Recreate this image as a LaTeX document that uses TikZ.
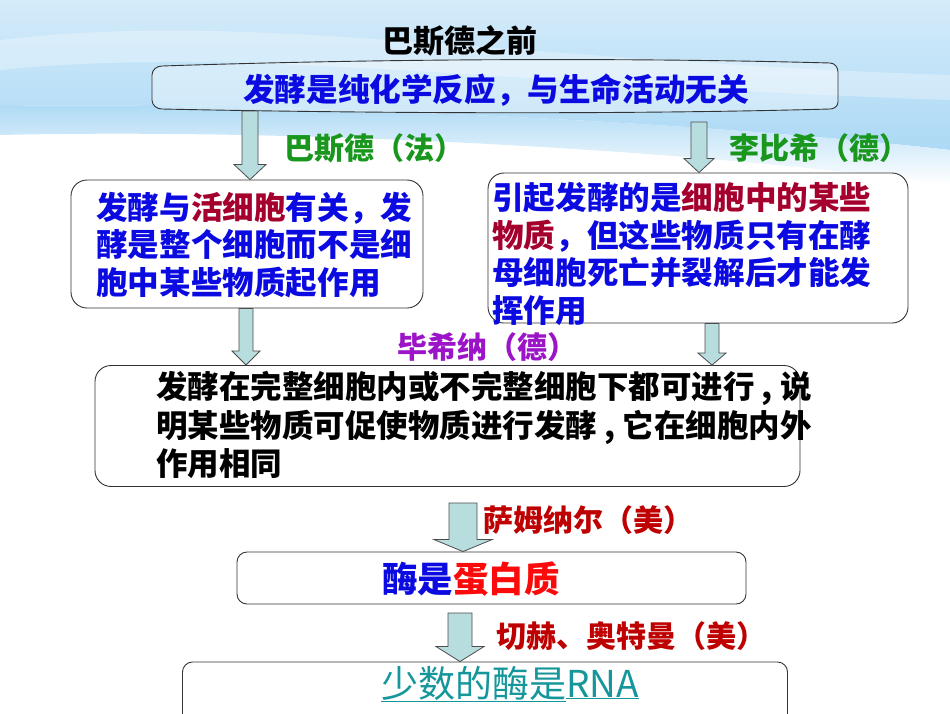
\documentclass[tikz,border=0pt]{standalone}
\usepackage{fontspec}
\newfontfamily\cjk{Noto Sans CJK SC}
\usetikzlibrary{calc}
\definecolor{bgtop}{RGB}{212,235,250}
\definecolor{bgbot}{RGB}{172,217,245}
\definecolor{arrowfill}{RGB}{184,221,223}
\definecolor{ablue}{RGB}{10,10,225}
\definecolor{amaroon}{RGB}{165,0,45}
\definecolor{agreen}{RGB}{25,150,30}
\definecolor{apurple}{RGB}{155,20,200}
\definecolor{adred}{RGB}{190,0,0}
\definecolor{ared}{RGB}{250,10,10}
\definecolor{ateal}{RGB}{20,150,155}
\newcommand\blockarrow[5]{%
  \draw[barrow] let \p1=(#1), \p2=(#2) in
    (\x1-#3pt,\y1) -- (\x1+#3pt,\y1) -- (\x1+#3pt,\y2+#5pt) -- (\x1+#4pt,\y2+#5pt)
    -- (\x1,\y2) -- (\x1-#4pt,\y2+#5pt) -- (\x1-#3pt,\y2+#5pt) -- cycle;}
\begin{document}
\begin{tikzpicture}[x=1pt,y=-1pt,
  barrow/.style={draw=black!70, line width=0.8pt, fill=arrowfill, line join=miter},
  box/.style={draw=black!80, line width=0.9pt, rounded corners=16pt, fill=white},
  txt/.style={inner sep=0pt, anchor=west, align=left, font=\cjk\bfseries\fontsize{31.6}{37.6}\selectfont},
  lbl/.style={inner sep=0pt, font=\cjk\bfseries\fontsize{30}{32}\selectfont}]
\useasboundingbox (0,0) rectangle (950,713);
% background
\fill[white] (0,0) rectangle (950,713);
\shade[top color=bgtop, bottom color=bgbot] (0,0) -- (950,0) -- (950,150) .. controls (700,122) and (300,102) .. (0,106) -- cycle;
\shade[top color=bgbot, bottom color=white] (0,106) .. controls (300,102) and (700,122) .. (950,150) -- (950,185) .. controls (700,150) and (300,128) .. (0,135) -- cycle;
\fill[white, opacity=0.3] (0,40) .. controls (250,10) and (500,60) .. (950,75) -- (950,100) .. controls (500,85) and (250,45) .. (0,70) -- cycle;
% title
\node[lbl, font=\cjk\bfseries\fontsize{31}{32}\selectfont, text=black] (title) at (460,41) {巴斯德之前};
% top box
\draw[line width=0.9pt, draw=black!80, fill=white, fill opacity=0.35]
  (162,66) .. controls (400,58) and (650,58) .. (830,63)
  to[out=0,in=90] (838,72) -- (838,102)
  to[out=-90,in=0] (830,109) .. controls (650,114) and (400,114) .. (162,109)
  to[out=180,in=-90] (152,100) -- (152,75) to[out=90,in=180] cycle;
\node[txt, anchor=center, text=ablue] (topbox) at (496,90) {发酵是纯化学反应，与生命活动无关};
\coordinate (a1s) at (250,111);
\coordinate (a2s) at (699,122);
% labels
\node[lbl, text=agreen, anchor=west] (l1) at (284,148) {巴斯德（法）};
\node[lbl, text=agreen, anchor=west] (l2) at (729,148) {李比希（德）};
% left box
\node[box, minimum width=352, minimum height=128] (lbox) at (247,244) {};
\node[txt, text=ablue] (ltxt) at (96,245) {发酵与{\color{amaroon}活细胞}有关，发\\酵是整个细胞而不是细\\胞中某些物质起作用};
% right box
\node[box, minimum width=420, minimum height=150] (rbox) at (698,248) {};
\node[txt, text=ablue] (rtxt) at (492,254) {引起发酵的是{\color{amaroon}细胞中的某些}\\{\color{amaroon}物质}，但这些物质只有在酵\\母细胞死亡并裂解后才能发\\挥作用};
% top arrows
\blockarrow{a1s}{a1s |- lbox.north}{8}{16}{15}
\blockarrow{a2s}{a2s |- rbox.north}{8}{15}{14}
% middle
\node[lbl, text=apurple] (l3) at (487,347) {毕希纳（德）};
\node[box, minimum width=705, minimum height=121] (mbox) at (447.5,426) {};
\node[txt, text=black, font=\cjk\bfseries\fontsize{31.5}{38.5}\selectfont] (mtxt) at (156,425) {发酵在完整细胞内或不完整细胞下都可进行 , 说\\明某些物质可促使物质进行发酵 , 它在细胞内外\\作用相同};
\coordinate (a3s) at (246,0);
\coordinate (a4s) at (712,0);
\blockarrow{lbox.south -| a3s}{a3s |- mbox.north}{7}{14}{14}
\blockarrow{rbox.south -| a4s}{a4s |- mbox.north}{7}{14}{12}
% protein
\node[box, rounded corners=10pt, minimum width=509, minimum height=52] (pbox) at (491.5,578) {};
\node[txt, anchor=center, font=\cjk\bfseries\fontsize{35.5}{40}\selectfont] (ptxt) at (471,579) {{\color{ablue}酶是}{\color{ared}蛋白质}};
\coordinate (a5s) at (463,503);
\blockarrow{a5s}{a5s |- pbox.north}{14}{29}{12}
\node[lbl, text=adred, anchor=west] (l4) at (483,520) {萨姆纳尔（美）};
% RNA
\node[box, rounded corners=10pt, minimum width=605, minimum height=70] (rnabox) at (485,697) {};
\node[inner sep=0pt, text=ateal, font=\cjk\fontsize{37}{40}\selectfont] (rnatxt) at (510,684) {\underline{少数的酶是}\underline{RNA}};
\coordinate (a6s) at (460,613);
\blockarrow{a6s}{a6s |- rnabox.north}{12}{24}{15}
\node[lbl, text=adred, anchor=west] (l5) at (496,636) {切赫、奥特曼（美）};
\end{tikzpicture}
\end{document}
